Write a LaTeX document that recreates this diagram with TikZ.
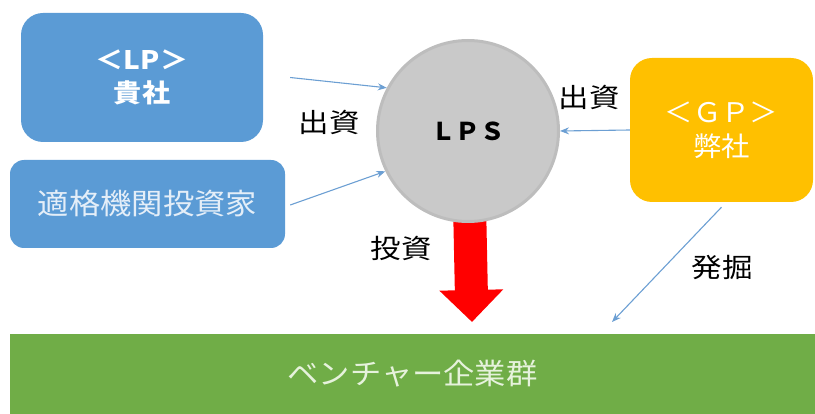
\documentclass[tikz,border=0pt]{standalone}
\usepackage{fontspec}
\newfontfamily\jp{Noto Sans CJK JP}
\usetikzlibrary{arrows.meta,backgrounds,calc}
\definecolor{lpblue}{HTML}{5B9BD5}
\definecolor{gporange}{HTML}{FFC000}
\definecolor{vgreen}{HTML}{70AD47}
\definecolor{circfill}{HTML}{C9C9C9}
\definecolor{circedge}{HTML}{BDBDBD}
\definecolor{arrblue}{HTML}{6C9FD3}
\definecolor{lighttxt}{HTML}{E4EEF8}
\definecolor{greentxt}{HTML}{E6F2DC}
\newcommand\wtxt[2]{\scalebox{#1}[1]{#2}}
\tikzset{
  x=1pt, y=-1pt,
  box/.style={draw=none, rounded corners=#1, inner sep=0pt, align=center},
  flow/.style={draw=arrblue, line width=1.1pt, -{Stealth[length=9pt,width=7pt]}},
  lbl/.style={font=\jp\fontsize{26.5}{30}\selectfont, text=black, inner sep=0pt}
}
\begin{document}
\begin{tikzpicture}
\useasboundingbox (0,0) rectangle (815,414);
% boxes
\node[box=22pt, fill=lpblue, minimum width=242pt, minimum height=129pt,
      text=white, font=\jp\bfseries\fontsize{25.5}{36}\selectfont] (lp) at (142,77.5)
      {\wtxt{1.1}{＜LP＞}\\[-3pt]\wtxt{1.1}{貴社}};
\node[box=14pt, fill=lpblue, minimum width=275pt, minimum height=88pt,
      text=lighttxt, font=\jp\fontsize{29}{34}\selectfont] (qii) at (147.5,204)
      {\raisebox{3pt}{\wtxt{1.08}{適格機関投資家}}};
\node[box=22pt, fill=gporange, minimum width=183pt, minimum height=144pt,
      text=white, font=\jp\fontsize{27}{38}\selectfont] (gp) at (721.5,130)
      {\wtxt{1.05}{＜ＧＰ＞}\\[-4pt]\wtxt{1.05}{弊社}};
\node[draw=circedge, line width=3pt, fill=circfill, circle, minimum size=181pt,
      inner sep=0pt, font=\jp\bfseries\fontsize{24.5}{28}\selectfont] (lps) at (468,131)
      {\raisebox{-4pt}{ＬＰＳ}};
\node[fill=vgreen, minimum width=805pt, minimum height=80pt, inner sep=0pt,
      text=greentxt, font=\jp\fontsize{29}{34}\selectfont] (vc) at (412.5,374)
      {\wtxt{1.08}{ベンチャー企業群}};
% red investment arrow behind circle
\coordinate (redtip) at (472,322);
\begin{scope}[on background layer]
\draw[draw=red, line width=33pt, -{Triangle[length=32pt,width=62pt]}] (lps.center) -- (redtip);
\end{scope}
% blue flows
\draw[flow] ($(lp.east)+(27,0)$) -- (lps.152);
\draw[flow] ($(qii.east)+(5,1)$) -- (lps.206);
\draw[flow] (gp.west) -- (lps.east);
\coordinate (findend) at (612,322);
\draw[flow] ($(gp.south)+(0,5)$) -- (findend);
% labels
\node[lbl] (l1) at (329,122) {\wtxt{1.15}{出資}};
\node[lbl] (l2) at (589,97) {\wtxt{1.15}{出資}};
\node[lbl] (l3) at (401,248) {\wtxt{1.15}{投資}};
\node[lbl] (l4) at (722,268) {\wtxt{1.15}{発掘}};
\end{tikzpicture}
\end{document}
